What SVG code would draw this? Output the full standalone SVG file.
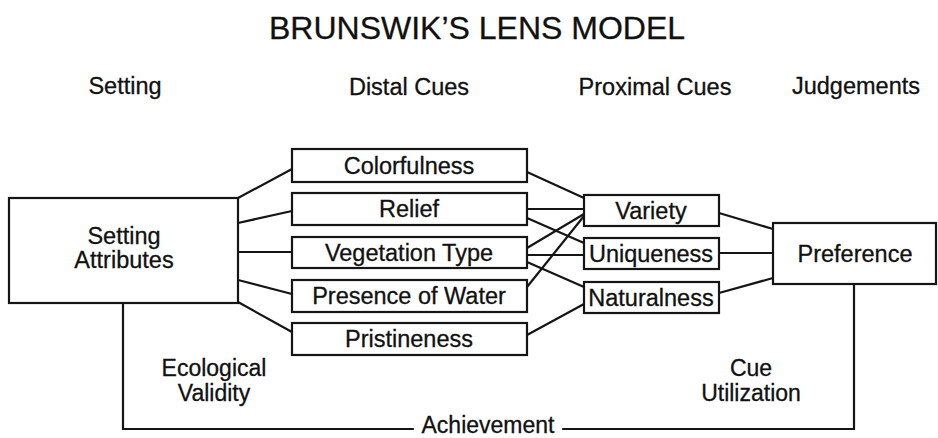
<svg xmlns="http://www.w3.org/2000/svg" width="938" height="438" viewBox="0 0 938 438">
  <style>
    text { font-family: "Liberation Sans", Arial, Helvetica, sans-serif; fill: #111; stroke: #111; stroke-width: 0.3; }
    .title { font-size: 32px; text-anchor: middle; }
    .head { font-size: 23.5px; text-anchor: middle; }
    .label { font-size: 23.5px; text-anchor: middle; }
    .note { font-size: 23px; text-anchor: middle; }
    .box { fill: #fff; stroke: #151515; stroke-width: 2.2; }
    .link { fill: none; stroke: #151515; stroke-width: 2.2; stroke-linecap: round; }
  </style>
  <rect width="938" height="438" fill="#fff"/>

  <text class="title" x="477" y="39">BRUNSWIK’S LENS MODEL</text>

  <!-- column headings -->
  <g id="headings">
    <text class="head" x="125" y="94">Setting</text>
    <text class="head" x="409" y="95">Distal Cues</text>
    <text class="head" x="655" y="95">Proximal Cues</text>
    <text class="head" x="856" y="94">Judgements</text>
  </g>

  <!-- connectors -->
  <g id="connectors">
    <!-- setting to distal cues -->
    <line class="link" x1="238" y1="198" x2="292" y2="169"/>
    <line class="link" x1="238" y1="223" x2="292" y2="211"/>
    <line class="link" x1="238" y1="252" x2="292" y2="252"/>
    <line class="link" x1="238" y1="280" x2="292" y2="294"/>
    <line class="link" x1="238" y1="302" x2="292" y2="332"/>
    <!-- distal to proximal cues -->
    <line class="link" x1="527" y1="172" x2="584" y2="198"/>
    <line class="link" x1="527" y1="209" x2="584" y2="209"/>
    <line class="link" x1="527" y1="218" x2="584" y2="243"/>
    <line class="link" x1="527" y1="248" x2="584" y2="214"/>
    <line class="link" x1="527" y1="255" x2="584" y2="255"/>
    <line class="link" x1="527" y1="262" x2="584" y2="287"/>
    <line class="link" x1="527" y1="287" x2="584" y2="216"/>
    <line class="link" x1="527" y1="335" x2="584" y2="304"/>
    <!-- proximal cues to judgement -->
    <line class="link" x1="719" y1="213" x2="773" y2="229"/>
    <line class="link" x1="719" y1="253" x2="773" y2="253"/>
    <line class="link" x1="719" y1="293" x2="773" y2="278"/>
    <!-- achievement loop -->
    <polyline class="link" points="123,303 123,429 413,429"/>
    <polyline class="link" points="563,429 854,429 854,284"/>
  </g>

  <g id="setting-attributes">
    <rect class="box" x="9" y="198" width="229" height="105"/>
    <text class="label" x="124" y="244">Setting</text>
    <text class="label" x="124" y="268">Attributes</text>
  </g>

  <g id="colorfulness">
    <rect class="box" x="292" y="149" width="235" height="33"/>
    <text class="label" x="409" y="174">Colorfulness</text>
  </g>
  <g id="relief">
    <rect class="box" x="292" y="193" width="235" height="32"/>
    <text class="label" x="409" y="217">Relief</text>
  </g>
  <g id="vegetation-type">
    <rect class="box" x="292" y="237" width="235" height="31"/>
    <text class="label" x="409" y="261">Vegetation Type</text>
  </g>
  <g id="presence-of-water">
    <rect class="box" x="292" y="280" width="235" height="32"/>
    <text class="label" x="409" y="304">Presence of Water</text>
  </g>
  <g id="pristineness">
    <rect class="box" x="292" y="323" width="235" height="32"/>
    <text class="label" x="409" y="347">Pristineness</text>
  </g>

  <g id="variety">
    <rect class="box" x="584" y="195" width="135" height="31"/>
    <text class="label" x="651" y="219">Variety</text>
  </g>
  <g id="uniqueness">
    <rect class="box" x="584" y="238" width="135" height="31"/>
    <text class="label" x="651" y="262">Uniqueness</text>
  </g>
  <g id="naturalness">
    <rect class="box" x="584" y="282" width="135" height="31"/>
    <text class="label" x="651" y="306">Naturalness</text>
  </g>

  <g id="preference">
    <rect class="box" x="773" y="223" width="163" height="61"/>
    <text class="label" x="855" y="262">Preference</text>
  </g>

  <g id="annotations">
    <text class="note" x="214" y="376">Ecological</text>
    <text class="note" x="214" y="401">Validity</text>
    <text class="note" x="751" y="376">Cue</text>
    <text class="note" x="751" y="401">Utilization</text>
    <text class="note" x="488" y="433">Achievement</text>
  </g>
</svg>
